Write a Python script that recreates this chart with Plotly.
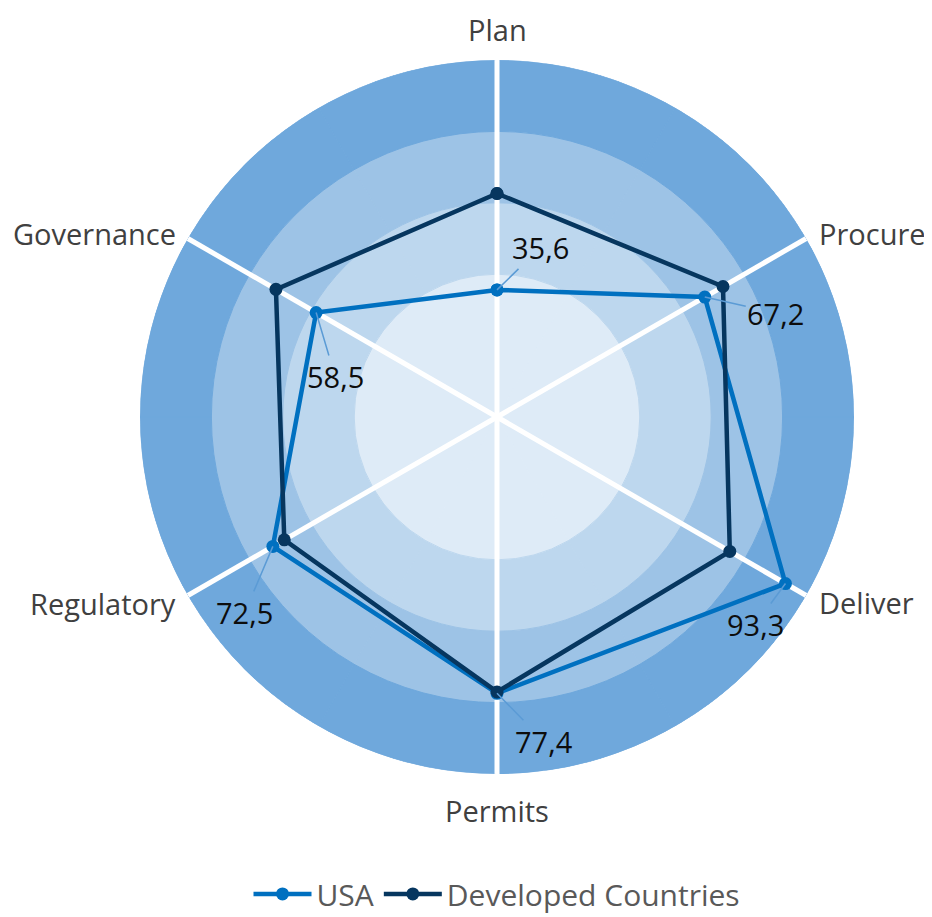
import math
import plotly.graph_objects as go

# ---- data ----
categories = ["Plan", "Procure", "Deliver", "Permits", "Regulatory", "Governance"]
usa = [35.6, 67.2, 93.3, 77.4, 72.5, 58.5]
developed = [62.6, 73.1, 75.3, 77.0, 68.8, 71.5]
usa_labels = ["35,6", "67,2", "93,3", "77,4", "72,5", "58,5"]
band_edges = [0, 40, 60, 80, 100]

# ---- styles ----
band_colors = ["#deebf7", "#bdd7ee", "#9dc3e6", "#6fa8dc"]
usa_color = "#0070c0"
dev_color = "#06365f"
FONT = "Open Sans"
# pixel offsets of the data labels from their points
label_offsets = [(43, -42), (71, 16), (-30, 41), (47, 48), (-28, 66), (19, 64)]
# pixel offsets (dx, dy-down, anchor) of category labels from the spoke ends
cat_offsets = [(0, -31, "center"), (11, -5, "left"), (11, 7, "left"),
               (0, 36, "center"), (-10, 8, "right"), (-10, -5, "right")]

# the page body adds an 8px margin, so the figure is sized to fit inside the window
W, H = 924, 909
ML, MT, SIDE = 132, 52, 714
MR, MB = W - ML - SIDE, H - MT - SIDE
RMAX = band_edges[-1]
n = len(categories)


def to_paper(value, i):
    ang = math.radians(90 - i * 360 / n)
    return (0.5 + 0.5 * (value / RMAX) * math.cos(ang),
            0.5 + 0.5 * (value / RMAX) * math.sin(ang))


fig = go.Figure()

# background bands (stacked rings)
for i in range(len(band_edges) - 1):
    fig.add_trace(go.Barpolar(
        r=[band_edges[i + 1] - band_edges[i]] * n,
        theta=categories,
        marker=dict(color=band_colors[i], line=dict(color=band_colors[i], width=1)),
        showlegend=False, hoverinfo="skip",
    ))

# white spokes
sr, st = [], []
for c in categories:
    sr += [0, RMAX, None]
    st += [c, c, c]
fig.add_trace(go.Scatterpolar(
    r=sr, theta=st, mode="lines", line=dict(color="white", width=5),
    showlegend=False, hoverinfo="skip", connectgaps=False,
))

fig.add_trace(go.Scatterpolar(
    r=usa + usa[:1], theta=categories + categories[:1], name="USA",
    mode="lines+markers", line=dict(color=usa_color, width=4.5),
    marker=dict(size=13, color=usa_color),
))
fig.add_trace(go.Scatterpolar(
    r=developed + developed[:1], theta=categories + categories[:1],
    name="Developed Countries",
    mode="lines+markers", line=dict(color=dev_color, width=4.5),
    marker=dict(size=13, color=dev_color),
))

annotations = []
# data labels with leader lines
for i, (v, txt) in enumerate(zip(usa, usa_labels)):
    x, y = to_paper(v, i)
    ax, ay = label_offsets[i]
    annotations.append(dict(
        x=x, y=y, xref="paper", yref="paper", text=txt,
        showarrow=True, arrowhead=0, arrowwidth=1.5, arrowcolor="#5b9bd5",
        ax=ax, ay=ay, standoff=0, startstandoff=0,
        font=dict(family=FONT, size=29, color="#0d0d0d"),
    ))
# category labels
for i, c in enumerate(categories):
    x, y = to_paper(RMAX, i)
    dx, dy, anchor = cat_offsets[i]
    annotations.append(dict(
        x=x, y=y, xref="paper", yref="paper", text=c, showarrow=False,
        xanchor=anchor, yanchor="middle", xshift=dx, yshift=-dy,
        font=dict(family=FONT, size=29, color="#404040"),
    ))

fig.update_layout(
    width=W, height=H, autosize=False,
    margin=dict(l=ML, r=MR, t=MT, b=MB, pad=0, autoexpand=False),
    paper_bgcolor="white", plot_bgcolor="white",
    font=dict(family=FONT, size=29, color="#404040"),
    polar=dict(
        domain=dict(x=[0, 1], y=[0, 1]),
        bgcolor="rgba(0,0,0,0)",
        bargap=0, barmode="stack",
        radialaxis=dict(range=[0, RMAX], visible=False, showgrid=False),
        angularaxis=dict(
            direction="clockwise", rotation=90, type="category",
            categoryorder="array", categoryarray=categories,
            showgrid=False, showline=False, ticks="", showticklabels=False,
        ),
    ),
    legend=dict(
        orientation="h", x=0.5, xanchor="center", y=-0.168, yanchor="middle",
        font=dict(family=FONT, size=30, color="#595959"),
        itemwidth=58, bgcolor="rgba(0,0,0,0)",
    ),
    annotations=annotations,
    showlegend=True,
)

fig.write_html("out.html")
